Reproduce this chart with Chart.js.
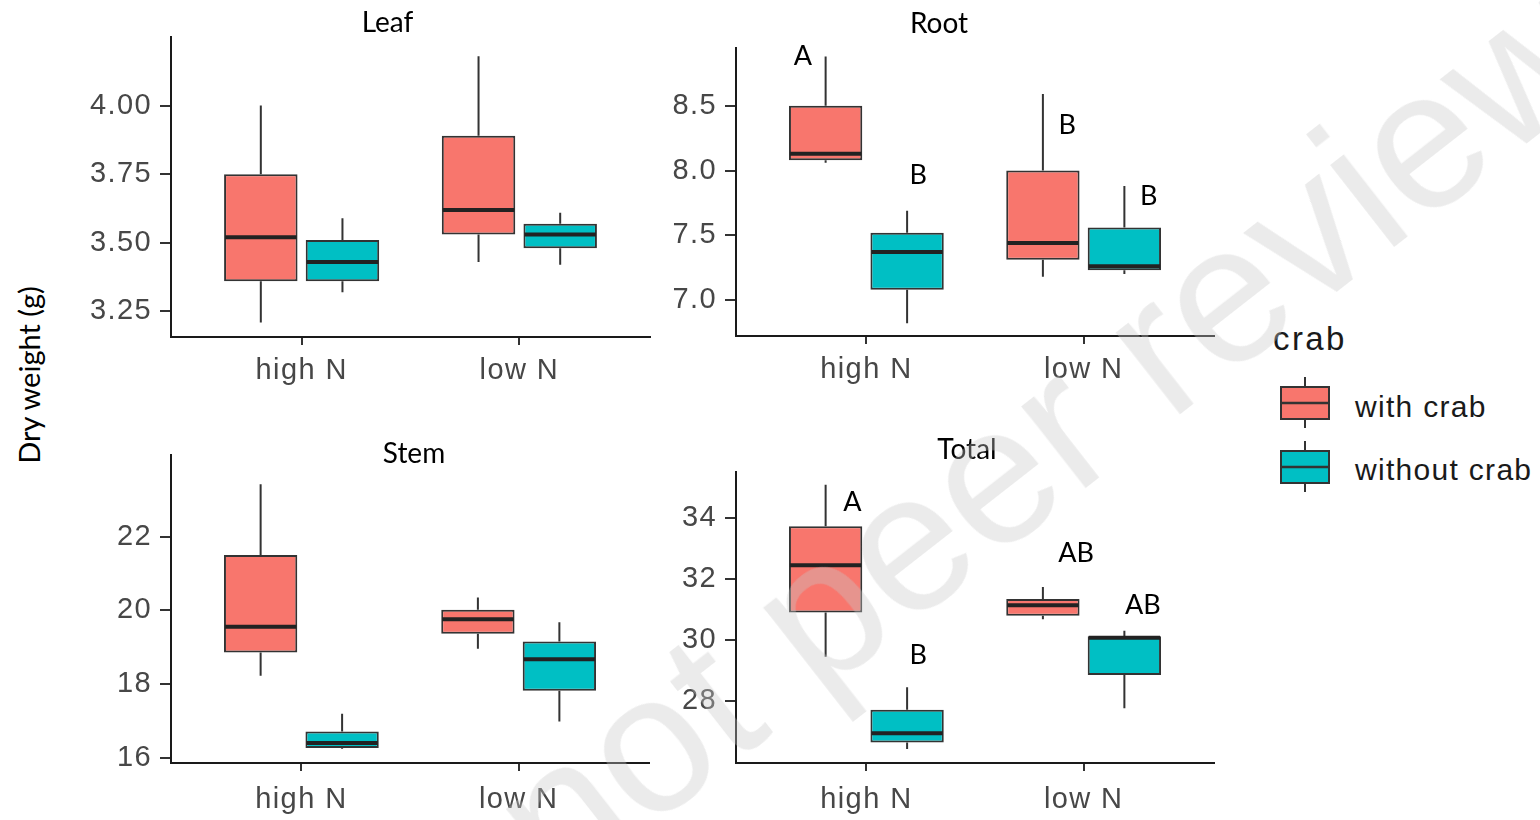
<!DOCTYPE html>
<html>
<head>
<meta charset="utf-8">
<script src="https://cdn.jsdelivr.net/npm/chart.js@4.4.1/dist/chart.umd.min.js"></script>
<style>
  html, body { margin: 0; padding: 0; background: #fff; }
  #page { position: relative; width: 1540px; height: 820px; overflow: hidden; background: #fff; }
  .panel { position: absolute; }
  .panel canvas { display: block; }
  #ylab {
    position: absolute; left: 28px; top: 375px;
    transform: translate(-50%, -50%) rotate(-90deg);
    font-family: Lato, sans-serif; font-size: 29px; color: #000; white-space: nowrap; line-height: 1;
  }
  .legtxt {
    position: absolute; font-family: 'Liberation Sans', Arial, sans-serif; line-height: 1; white-space: nowrap;
  }
  #legTitle { left: 1273px; top: 322px; font-size: 33px; letter-spacing: 2.4px; color: #1a1a1a; }
  .legKey { position: absolute; }
  #watermark {
    position: absolute; left: 458px; top: 769px; transform-origin: 0 0; transform: rotate(-38deg);
    font-family: 'Liberation Sans', Arial, sans-serif; font-size: 196px; line-height: 1;
    color: rgba(200, 200, 200, 0.36); white-space: nowrap; pointer-events: none; z-index: 5;
  }
</style>
</head>
<body>
<div id="page">
  <div id="ylab">Dry weight (g)</div>
  <div id="legTitle" class="legtxt">crab</div>
  <div id="watermark">not peer review</div>
</div>
<script>
// Treatments on the x axis and the two crab groups
const categories = ['high N', 'low N'];
const seriesNames = ['with crab', 'without crab'];
const seriesColors = ['#F8766D', '#00BFC4'];
const legendTitle = 'crab';

// Box summaries per treatment: [min, q1, median, q3, max]
const leafWithCrab     = [[3.21, 3.36, 3.52, 3.75, 4.00], [3.43, 3.53, 3.62, 3.89, 4.18]];
const leafWithoutCrab  = [[3.32, 3.36, 3.43, 3.51, 3.59], [3.42, 3.48, 3.53, 3.57, 3.61]];
const rootWithCrab     = [[8.06, 8.08, 8.13, 8.50, 8.88], [7.18, 7.31, 7.44, 8.00, 8.59]];
const rootWithoutCrab  = [[6.82, 7.08, 7.37, 7.52, 7.69], [7.20, 7.23, 7.26, 7.56, 7.88]];
const stemWithCrab     = [[18.23, 18.86, 19.56, 21.50, 23.42], [18.96, 19.37, 19.76, 20.02, 20.35]];
const stemWithoutCrab  = [[16.25, 16.27, 16.41, 16.72, 17.20], [16.99, 17.82, 18.68, 19.16, 19.68]];
const totalWithCrab    = [[29.45, 30.90, 32.45, 33.73, 35.09], [30.68, 30.79, 31.14, 31.34, 31.74]];
const totalWithoutCrab = [[26.42, 26.63, 26.94, 27.71, 28.45], [27.76, 28.85, 30.07, 30.12, 30.30]];

// Y tick values per panel
const leafTicks  = [3.25, 3.50, 3.75, 4.00];
const rootTicks  = [7.0, 7.5, 8.0, 8.5];
const stemTicks  = [16, 18, 20, 22];
const totalTicks = [28, 30, 32, 34];

// Significance letters: [label, x position on the treatment axis, y value]
const rootLetters  = [['A', 0.708, 8.88], ['B', 1.239, 7.96], ['B', 1.925, 8.35], ['B', 2.300, 7.80]];
const totalLetters = [['A', 0.936, 34.52], ['B', 1.239, 29.51], ['AB', 1.965, 32.85], ['AB', 2.273, 31.14]];

const TICK_FONT = "'Liberation Sans', Arial, sans-serif";
const NOTE_FONT = "Lato, sans-serif";

const page = document.getElementById('page');

// whiskers behind the boxes, medians on top
const boxWhiskerPlugin = {
  id: 'boxWhisker',
  beforeDatasetsDraw(chart) {
    const ctx = chart.ctx, ys = chart.scales.y;
    chart.data.datasets.forEach((ds, di) => {
      chart.getDatasetMeta(di).data.forEach((bar, i) => {
        const [mn, q1, , q3, mx] = ds.stats[i];
        ctx.save();
        ctx.strokeStyle = '#333';
        ctx.lineWidth = 2;
        ctx.beginPath();
        ctx.moveTo(bar.x, ys.getPixelForValue(mx));
        ctx.lineTo(bar.x, ys.getPixelForValue(q3));
        ctx.moveTo(bar.x, ys.getPixelForValue(q1));
        ctx.lineTo(bar.x, ys.getPixelForValue(mn));
        ctx.stroke();
        ctx.restore();
      });
    });
  },
  afterDatasetsDraw(chart) {
    const ctx = chart.ctx, ys = chart.scales.y;
    chart.data.datasets.forEach((ds, di) => {
      chart.getDatasetMeta(di).data.forEach((bar, i) => {
        const md = ds.stats[i][2];
        const y = ys.getPixelForValue(md);
        ctx.save();
        ctx.strokeStyle = '#222';
        ctx.lineWidth = 4;
        ctx.beginPath();
        ctx.moveTo(bar.x - bar.width / 2 + 1, y);
        ctx.lineTo(bar.x + bar.width / 2 - 1, y);
        ctx.stroke();
        ctx.restore();
      });
    });
  }
};

// wider tracking for the axis text
const spacingPlugin = {
  id: 'tickSpacing',
  beforeDraw(chart) { chart.ctx.letterSpacing = '1.4px'; },
  afterDraw(chart) { chart.ctx.letterSpacing = '0px'; }
};

// panel title and significance letters
const notesPlugin = {
  id: 'notes',
  afterDraw(chart, args, opts) {
    const ctx = chart.ctx, a = chart.chartArea;
    const xs = chart.scales.x, ys = chart.scales.y;
    ctx.save();
    ctx.letterSpacing = '0px';
    ctx.fillStyle = '#000';
    ctx.textAlign = 'center';
    ctx.font = '28px ' + NOTE_FONT;
    ctx.textBaseline = 'alphabetic';
    ctx.fillText(opts.title, (a.left + a.right) / 2 + opts.titleDx, a.top + opts.titleDy);
    ctx.font = '27px ' + NOTE_FONT;
    ctx.textBaseline = 'middle';
    (opts.letters || []).forEach(([t, xv, yv]) => {
      ctx.fillText(t, xs.getPixelForValue(xv), ys.getPixelForValue(yv));
    });
    ctx.restore();
  }
};

function makePanel(p) {
  const wrap = document.createElement('div');
  wrap.className = 'panel';
  wrap.style.left = p.left + 'px';
  wrap.style.top = p.top + 'px';
  wrap.style.width = p.w + 'px';
  wrap.style.height = p.h + 'px';
  const canvas = document.createElement('canvas');
  canvas.width = p.w;
  canvas.height = p.h;
  wrap.appendChild(canvas);
  page.appendChild(wrap);

  const datasets = p.series.map((stats, s) => ({
    label: seriesNames[s],
    data: stats.map((st, i) => ({ x: i + 1, y: [st[1], st[3]] })),
    stats: stats,
    backgroundColor: seriesColors[s],
    borderColor: '#333',
    borderWidth: 2,
    borderSkipped: false,
    categoryPercentage: 0.75,
    barPercentage: 0.9
  }));

  new Chart(canvas, {
    type: 'bar',
    data: { datasets },
    options: {
      responsive: false,
      animation: false,
      devicePixelRatio: 1,
      layout: { padding: { top: p.pt, right: p.pr, left: 0, bottom: 0 } },
      plugins: {
        legend: { display: false },
        tooltip: { enabled: false },
        notes: { title: p.title, titleDx: p.titleDx, titleDy: p.titleDy, letters: p.letters }
      },
      scales: {
        x: {
          type: 'linear', min: 0.4, max: 2.6, offset: false,
          afterBuildTicks: s => { s.ticks = categories.map((c, i) => ({ value: i + 1 })); },
          afterFit: s => { s.height = p.xh; },
          ticks: {
            callback: v => categories[Math.round(v) - 1],
            font: { family: TICK_FONT, size: 29 },
            color: '#474747', padding: p.xpad, maxRotation: 0, autoSkip: false
          },
          grid: { display: true, drawOnChartArea: false, drawTicks: true, tickLength: 8, color: '#333', lineWidth: 2, offset: false },
          border: { display: true, color: '#1a1a1a', width: 2 }
        },
        y: {
          type: 'linear', min: p.ymin, max: p.ymax,
          afterBuildTicks: s => { s.ticks = p.ticks.map(v => ({ value: v })); },
          afterFit: s => { s.width = p.yw; },
          ticks: {
            callback: v => Number(v).toFixed(p.dec),
            font: { family: TICK_FONT, size: 29 },
            color: '#474747', padding: 8
          },
          grid: { display: true, drawOnChartArea: false, drawTicks: true, tickLength: 11, color: '#333', lineWidth: 2 },
          border: { display: true, color: '#1a1a1a', width: 2 }
        }
      }
    },
    plugins: [spacingPlugin, boxWhiskerPlugin, notesPlugin]
  });
}

makePanel({ title: 'Leaf', series: [leafWithCrab, leafWithoutCrab], ticks: leafTicks, dec: 2,
  ymin: 3.157, ymax: 4.25, left: 0, top: 0, w: 660, h: 420, yw: 171, pr: 10, pt: 37, xh: 83, xpad: 9,
  titleDx: -23, titleDy: -5 });
makePanel({ title: 'Root', series: [rootWithCrab, rootWithoutCrab], ticks: rootTicks, dec: 1,
  ymin: 6.722, ymax: 8.946, left: 560, top: 0, w: 664, h: 420, yw: 176, pr: 10, pt: 48, xh: 84, xpad: 9,
  titleDx: -36, titleDy: -15, letters: rootLetters });
makePanel({ title: 'Stem', series: [stemWithCrab, stemWithoutCrab], ticks: stemTicks, dec: 0,
  ymin: 15.866, ymax: 24.21, left: 0, top: 420, w: 660, h: 400, yw: 171, pr: 11, pt: 35, xh: 57, xpad: 12,
  titleDx: 4, titleDy: 8 });
makePanel({ title: 'Total', series: [totalWithCrab, totalWithoutCrab], ticks: totalTicks, dec: 0,
  ymin: 25.96, ymax: 35.51, left: 560, top: 420, w: 664, h: 400, yw: 176, pr: 10, pt: 52, xh: 57, xpad: 12,
  titleDx: -8, titleDy: -13, letters: totalLetters });

// legend: box glyph + label per crab group
const legendRows = [{ top: 376, textTop: 392 }, { top: 440, textTop: 455 }];
seriesNames.forEach((name, s) => {
  const row = legendRows[s];
  const c = document.createElement('canvas');
  c.width = 54; c.height = 54;
  c.className = 'legKey';
  c.style.left = '1278px';
  c.style.top = row.top + 'px';
  page.appendChild(c);
  const g = c.getContext('2d');
  g.strokeStyle = '#333';
  g.lineWidth = 2;
  g.beginPath(); g.moveTo(27, 1); g.lineTo(27, 52); g.stroke();
  g.fillStyle = seriesColors[s];
  g.fillRect(3, 11, 48, 32);
  g.strokeRect(3, 11, 48, 32);
  g.lineWidth = 2.5;
  g.beginPath(); g.moveTo(3, 27); g.lineTo(51, 27); g.stroke();

  const t = document.createElement('div');
  t.className = 'legtxt';
  t.textContent = name;
  t.style.left = '1355px';
  t.style.top = row.textTop + 'px';
  t.style.fontSize = '30px';
  t.style.letterSpacing = '1.3px';
  t.style.color = '#1a1a1a';
  page.appendChild(t);
});
document.getElementById('legTitle').textContent = legendTitle;
</script>
</body>
</html>
